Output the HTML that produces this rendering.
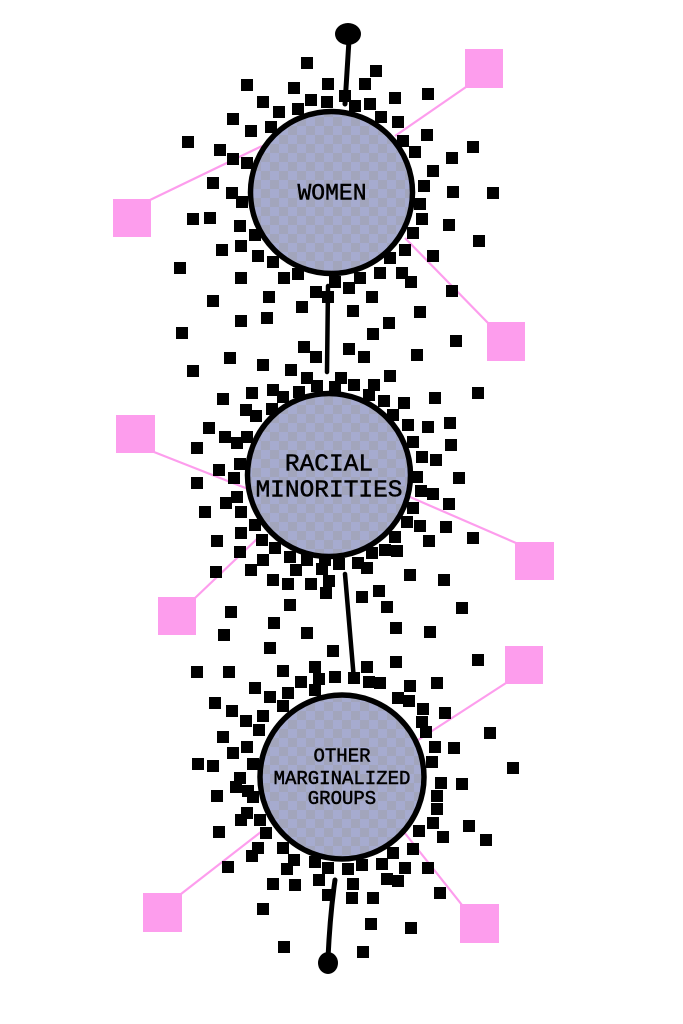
<!DOCTYPE html>
<html><head><meta charset="utf-8"><style>
html,body{margin:0;padding:0;background:#fff;}
svg{display:block;}
</style></head><body>
<svg width="683" height="1024" viewBox="0 0 683 1024" xmlns="http://www.w3.org/2000/svg">
<defs>
<pattern id="chk" x="0" y="0" width="18" height="18" patternUnits="userSpaceOnUse">
<rect width="18" height="18" fill="#a6abcf"/>
<rect width="9" height="9" fill="#a2a5bc"/>
<rect x="9" y="9" width="9" height="9" fill="#a2a5bc"/>
</pattern>
</defs>
<rect width="683" height="1024" fill="#fff"/>
<!-- pink lines -->
<g stroke="#fd9ded" stroke-width="2.2" fill="none">
<line x1="466" y1="87" x2="395" y2="136"/>
<line x1="150" y1="200" x2="262" y2="146"/>
<line x1="488" y1="323" x2="405" y2="238"/>
<line x1="154" y1="452" x2="248" y2="489"/>
<line x1="410" y1="497" x2="516" y2="543"/>
<line x1="195" y1="598" x2="258" y2="538"/>
<line x1="506" y1="683" x2="418" y2="740"/>
<line x1="181" y1="894" x2="266" y2="828"/>
<line x1="462" y1="905" x2="404" y2="832"/>
</g>
<!-- black squares -->
<g fill="#000">
<rect x="301" y="57" width="12" height="12"/><rect x="370" y="65" width="12" height="12"/><rect x="241" y="79" width="12" height="12"/><rect x="288" y="82" width="12" height="12"/><rect x="322" y="78" width="12" height="12"/><rect x="359" y="78" width="12" height="12"/><rect x="422" y="88" width="12" height="12"/><rect x="257" y="96" width="12" height="12"/><rect x="305" y="94" width="12" height="12"/><rect x="321" y="96" width="12" height="12"/><rect x="339" y="90" width="12" height="12"/><rect x="349" y="100" width="12" height="12"/><rect x="364" y="98" width="12" height="12"/><rect x="389" y="92" width="12" height="12"/><rect x="273" y="106" width="12" height="12"/><rect x="292" y="103" width="12" height="12"/><rect x="375" y="111" width="12" height="12"/><rect x="392" y="116" width="12" height="12"/><rect x="227" y="113" width="12" height="12"/><rect x="245" y="125" width="12" height="12"/><rect x="265" y="121" width="12" height="12"/><rect x="421" y="129" width="12" height="12"/><rect x="397" y="135" width="12" height="12"/><rect x="467" y="141" width="12" height="12"/><rect x="182" y="136" width="12" height="12"/><rect x="214" y="144" width="12" height="12"/><rect x="227" y="153" width="12" height="12"/><rect x="241" y="157" width="12" height="12"/><rect x="409" y="146" width="12" height="12"/><rect x="446" y="152" width="12" height="12"/><rect x="427" y="165" width="12" height="12"/><rect x="207" y="177" width="12" height="12"/><rect x="226" y="187" width="12" height="12"/><rect x="236" y="196" width="12" height="12"/><rect x="418" y="180" width="12" height="12"/><rect x="447" y="186" width="12" height="12"/><rect x="487" y="187" width="12" height="12"/><rect x="414" y="198" width="12" height="12"/><rect x="187" y="213" width="12" height="12"/><rect x="204" y="212" width="12" height="12"/><rect x="234" y="220" width="12" height="12"/><rect x="416" y="213" width="12" height="12"/><rect x="443" y="219" width="12" height="12"/><rect x="249" y="229" width="12" height="12"/><rect x="407" y="227" width="12" height="12"/>
<rect x="216" y="244" width="12" height="12"/><rect x="235" y="240" width="12" height="12"/><rect x="252" y="250" width="12" height="12"/><rect x="267" y="256" width="12" height="12"/><rect x="174" y="262" width="12" height="12"/><rect x="235" y="272" width="12" height="12"/><rect x="278" y="272" width="12" height="12"/><rect x="292" y="268" width="12" height="12"/><rect x="329" y="276" width="12" height="12"/><rect x="343" y="282" width="12" height="12"/><rect x="354" y="272" width="12" height="12"/><rect x="374" y="267" width="12" height="12"/><rect x="384" y="252" width="12" height="12"/><rect x="399" y="244" width="12" height="12"/><rect x="396" y="267" width="12" height="12"/><rect x="405" y="276" width="12" height="12"/><rect x="427" y="250" width="12" height="12"/><rect x="473" y="235" width="12" height="12"/><rect x="446" y="285" width="12" height="12"/><rect x="310" y="286" width="12" height="12"/><rect x="322" y="291" width="12" height="12"/><rect x="366" y="291" width="12" height="12"/><rect x="263" y="291" width="12" height="12"/><rect x="207" y="295" width="12" height="12"/><rect x="296" y="301" width="12" height="12"/><rect x="347" y="305" width="12" height="12"/><rect x="414" y="306" width="12" height="12"/><rect x="235" y="315" width="12" height="12"/><rect x="261" y="312" width="12" height="12"/><rect x="383" y="317" width="12" height="12"/><rect x="176" y="327" width="12" height="12"/><rect x="367" y="328" width="12" height="12"/><rect x="450" y="335" width="12" height="12"/><rect x="298" y="341" width="12" height="12"/><rect x="310" y="351" width="12" height="12"/><rect x="343" y="343" width="12" height="12"/><rect x="358" y="351" width="12" height="12"/><rect x="224" y="352" width="12" height="12"/><rect x="411" y="349" width="12" height="12"/><rect x="187" y="365" width="12" height="12"/><rect x="257" y="359" width="12" height="12"/><rect x="285" y="364" width="12" height="12"/><rect x="384" y="370" width="12" height="12"/><rect x="301" y="372" width="12" height="12"/><rect x="335" y="372" width="12" height="12"/><rect x="311" y="380" width="12" height="12"/><rect x="348" y="379" width="12" height="12"/><rect x="368" y="379" width="12" height="12"/><rect x="246" y="387" width="12" height="12"/><rect x="267" y="384" width="12" height="12"/><rect x="277" y="391" width="12" height="12"/><rect x="293" y="386" width="12" height="12"/><rect x="329" y="381" width="12" height="12"/><rect x="363" y="389" width="12" height="12"/><rect x="378" y="395" width="12" height="12"/><rect x="398" y="397" width="12" height="12"/><rect x="429" y="392" width="12" height="12"/><rect x="472" y="387" width="12" height="12"/><rect x="217" y="393" width="12" height="12"/><rect x="240" y="404" width="12" height="12"/><rect x="250" y="410" width="12" height="12"/><rect x="266" y="403" width="12" height="12"/><rect x="387" y="409" width="12" height="12"/><rect x="402" y="419" width="12" height="12"/><rect x="422" y="421" width="12" height="12"/><rect x="444" y="417" width="12" height="12"/><rect x="203" y="422" width="12" height="12"/><rect x="219" y="431" width="12" height="12"/><rect x="231" y="437" width="12" height="12"/><rect x="241" y="431" width="12" height="12"/><rect x="407" y="436" width="12" height="12"/><rect x="445" y="439" width="12" height="12"/><rect x="191" y="442" width="12" height="12"/>
<rect x="416" y="451" width="12" height="12"/><rect x="430" y="454" width="12" height="12"/><rect x="213" y="464" width="12" height="12"/><rect x="234" y="458" width="12" height="12"/><rect x="191" y="477" width="12" height="12"/><rect x="228" y="472" width="12" height="12"/><rect x="411" y="471" width="12" height="12"/><rect x="453" y="472" width="12" height="12"/><rect x="231" y="491" width="12" height="12"/><rect x="220" y="497" width="12" height="12"/><rect x="415" y="485" width="12" height="12"/><rect x="427" y="488" width="12" height="12"/><rect x="443" y="498" width="12" height="12"/><rect x="199" y="506" width="12" height="12"/><rect x="235" y="506" width="12" height="12"/><rect x="407" y="502" width="12" height="12"/><rect x="249" y="519" width="12" height="12"/><rect x="401" y="516" width="12" height="12"/><rect x="414" y="520" width="12" height="12"/><rect x="440" y="521" width="12" height="12"/><rect x="211" y="535" width="12" height="12"/><rect x="235" y="527" width="12" height="12"/><rect x="256" y="534" width="12" height="12"/><rect x="389" y="531" width="12" height="12"/><rect x="423" y="535" width="12" height="12"/><rect x="467" y="532" width="12" height="12"/><rect x="234" y="546" width="12" height="12"/><rect x="269" y="542" width="12" height="12"/><rect x="284" y="551" width="12" height="12"/><rect x="301" y="554" width="12" height="12"/><rect x="319" y="554" width="12" height="12"/><rect x="333" y="558" width="12" height="12"/><rect x="352" y="557" width="12" height="12"/><rect x="366" y="547" width="12" height="12"/><rect x="379" y="544" width="12" height="12"/><rect x="391" y="545" width="12" height="12"/><rect x="257" y="554" width="12" height="12"/><rect x="245" y="564" width="12" height="12"/><rect x="210" y="566" width="12" height="12"/><rect x="290" y="564" width="12" height="12"/><rect x="316" y="563" width="12" height="12"/><rect x="361" y="562" width="12" height="12"/><rect x="404" y="569" width="12" height="12"/><rect x="438" y="574" width="12" height="12"/><rect x="267" y="574" width="12" height="12"/><rect x="282" y="578" width="12" height="12"/><rect x="305" y="578" width="12" height="12"/><rect x="323" y="575" width="12" height="12"/><rect x="320" y="587" width="12" height="12"/><rect x="373" y="585" width="12" height="12"/><rect x="356" y="591" width="12" height="12"/><rect x="284" y="599" width="12" height="12"/><rect x="381" y="601" width="12" height="12"/><rect x="456" y="602" width="12" height="12"/><rect x="225" y="606" width="12" height="12"/><rect x="268" y="617" width="12" height="12"/><rect x="390" y="622" width="12" height="12"/><rect x="424" y="626" width="12" height="12"/><rect x="301" y="627" width="12" height="12"/><rect x="218" y="629" width="12" height="12"/><rect x="264" y="642" width="12" height="12"/><rect x="327" y="645" width="12" height="12"/><rect x="309" y="661" width="12" height="12"/><rect x="361" y="661" width="12" height="12"/><rect x="390" y="656" width="12" height="12"/><rect x="472" y="654" width="12" height="12"/><rect x="191" y="666" width="12" height="12"/><rect x="223" y="666" width="12" height="12"/><rect x="277" y="665" width="12" height="12"/>
<rect x="249" y="682" width="12" height="12"/><rect x="264" y="691" width="12" height="12"/><rect x="282" y="687" width="12" height="12"/><rect x="295" y="676" width="12" height="12"/><rect x="313" y="673" width="12" height="12"/><rect x="329" y="671" width="12" height="12"/><rect x="309" y="684" width="12" height="12"/><rect x="348" y="672" width="12" height="12"/><rect x="363" y="676" width="12" height="12"/><rect x="374" y="677" width="12" height="12"/><rect x="404" y="680" width="12" height="12"/><rect x="431" y="677" width="12" height="12"/><rect x="209" y="697" width="12" height="12"/><rect x="226" y="705" width="12" height="12"/><rect x="277" y="700" width="12" height="12"/><rect x="392" y="692" width="12" height="12"/><rect x="403" y="695" width="12" height="12"/><rect x="417" y="703" width="12" height="12"/><rect x="439" y="707" width="12" height="12"/><rect x="240" y="715" width="12" height="12"/><rect x="257" y="710" width="12" height="12"/><rect x="253" y="724" width="12" height="12"/><rect x="416" y="716" width="12" height="12"/><rect x="420" y="726" width="12" height="12"/><rect x="484" y="727" width="12" height="12"/><rect x="217" y="731" width="12" height="12"/><rect x="241" y="741" width="12" height="12"/><rect x="227" y="747" width="12" height="12"/><rect x="429" y="741" width="12" height="12"/><rect x="448" y="742" width="12" height="12"/><rect x="192" y="758" width="12" height="12"/><rect x="207" y="760" width="12" height="12"/><rect x="247" y="758" width="12" height="12"/><rect x="426" y="756" width="12" height="12"/><rect x="507" y="762" width="12" height="12"/><rect x="234" y="772" width="12" height="12"/><rect x="230" y="781" width="12" height="12"/><rect x="242" y="785" width="12" height="12"/><rect x="435" y="777" width="12" height="12"/><rect x="456" y="778" width="12" height="12"/><rect x="211" y="790" width="12" height="12"/><rect x="247" y="791" width="12" height="12"/><rect x="431" y="790" width="12" height="12"/><rect x="241" y="807" width="12" height="12"/><rect x="235" y="814" width="12" height="12"/><rect x="431" y="803" width="12" height="12"/><rect x="254" y="814" width="12" height="12"/><rect x="213" y="826" width="12" height="12"/><rect x="427" y="817" width="12" height="12"/><rect x="463" y="820" width="12" height="12"/><rect x="260" y="827" width="12" height="12"/><rect x="413" y="825" width="12" height="12"/><rect x="437" y="831" width="12" height="12"/><rect x="480" y="834" width="12" height="12"/><rect x="252" y="842" width="12" height="12"/><rect x="277" y="842" width="12" height="12"/><rect x="407" y="843" width="12" height="12"/><rect x="387" y="847" width="12" height="12"/><rect x="246" y="850" width="12" height="12"/>
<rect x="288" y="854" width="12" height="12"/><rect x="281" y="863" width="12" height="12"/><rect x="309" y="856" width="12" height="12"/><rect x="322" y="862" width="12" height="12"/><rect x="342" y="863" width="12" height="12"/><rect x="356" y="859" width="12" height="12"/><rect x="376" y="858" width="12" height="12"/><rect x="399" y="862" width="12" height="12"/><rect x="422" y="862" width="12" height="12"/><rect x="222" y="861" width="12" height="12"/><rect x="267" y="878" width="12" height="12"/><rect x="289" y="879" width="12" height="12"/><rect x="313" y="874" width="12" height="12"/><rect x="347" y="878" width="12" height="12"/><rect x="381" y="873" width="12" height="12"/><rect x="392" y="875" width="12" height="12"/><rect x="322" y="889" width="12" height="12"/><rect x="346" y="892" width="12" height="12"/><rect x="367" y="892" width="12" height="12"/><rect x="434" y="887" width="12" height="12"/><rect x="257" y="903" width="12" height="12"/><rect x="365" y="918" width="12" height="12"/><rect x="405" y="922" width="12" height="12"/><rect x="278" y="941" width="12" height="12"/><rect x="357" y="946" width="12" height="12"/>
</g>
<!-- connectors -->
<g stroke="#000" stroke-linecap="round" fill="none">
<line x1="349" y1="40" x2="345" y2="104" stroke-width="5"/>
<line x1="328" y1="286" x2="327" y2="372" stroke-width="4.5"/>
<line x1="345" y1="574" x2="354" y2="680" stroke-width="4.5"/>
<path d="M335 880 Q330 915 328 958" stroke-width="5"/>
</g>
<ellipse cx="348" cy="34" rx="13" ry="11" fill="#000"/>
<ellipse cx="328" cy="963" rx="10" ry="11" fill="#000"/>
<!-- circles -->
<g stroke="#000" stroke-width="5.5" fill="url(#chk)">
<circle cx="331.5" cy="192.5" r="81"/>
<circle cx="329" cy="475" r="81.5"/>
<circle cx="342" cy="777" r="82"/>
</g>
<!-- text -->
<g font-family="'Liberation Mono', 'DejaVu Sans Mono', monospace" font-weight="normal" fill="#000" stroke="#000" stroke-width="0.5" text-anchor="middle">
<text x="332" y="199.5" font-size="23">WOMEN</text>
<text x="329" y="470.5" font-size="24.5">RACIAL</text>
<text x="329" y="496.5" font-size="24.5">MINORITIES</text>
<text x="342" y="761.5" font-size="19">OTHER</text>
<text x="342" y="784" font-size="19">MARGINALIZED</text>
<text x="342" y="804" font-size="19">GROUPS</text>
</g>
<!-- pink squares -->
<g fill="#fd9ded">
<rect x="465" y="49" width="38" height="39"/>
<rect x="113" y="199" width="38" height="38"/>
<rect x="487" y="322" width="38" height="39"/>
<rect x="116" y="415" width="39" height="38"/>
<rect x="515" y="542" width="39" height="38"/>
<rect x="158" y="597" width="38" height="38"/>
<rect x="505" y="646" width="38" height="38"/>
<rect x="143" y="893" width="39" height="39"/>
<rect x="460" y="904" width="39" height="39"/>
</g>
</svg>
</body></html>
